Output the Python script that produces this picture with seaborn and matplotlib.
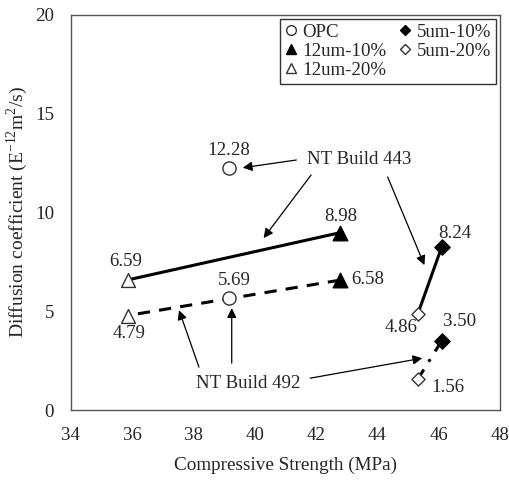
import matplotlib
matplotlib.use("Agg")
import matplotlib.pyplot as plt
import seaborn as sns
import pandas as pd
from matplotlib.lines import Line2D

groups = ["OPC", "12um-10%", "12um-20%", "5um-10%", "5um-20%"]
strength = [39.15, 42.78, 35.85, 46.1, 45.32]
d443 = [12.28, 8.98, 6.59, 8.24, 4.86]
d492 = [5.69, 6.58, 4.79, 3.50, 1.56]
labels443 = ["12.28", "8.98", "6.59", "8.24", "4.86"]
labels492 = ["5.69", "6.58", "4.79", "3.50", "1.56"]
xticks = [34, 36, 38, 40, 42, 44, 46, 48]
yticks = [0, 5, 10, 15, 20]

sns.set_style("white")
plt.rcParams["font.family"] = ["Liberation Serif", "DejaVu Serif"]
plt.rcParams["mathtext.fontset"] = "custom"
plt.rcParams["mathtext.rm"] = "Liberation Serif"

FS = 13.6
fig = plt.figure(figsize=(5.1, 4.82), dpi=100)
ax = fig.add_axes([0.139, 0.149, 0.841, 0.82])

df = pd.DataFrame({"group": groups, "strength": strength, "d443": d443, "d492": d492})

def pair(a, b, col):
    sub = df[df.group.isin([a, b])]
    return sub["strength"].values, sub[col].values

# connecting lines
x, y = pair("12um-20%", "12um-10%", "d443")
sns.lineplot(x=x, y=y, ax=ax, color="black", lw=2.2, sort=False, zorder=2)
x, y = pair("12um-20%", "12um-10%", "d492")
sns.lineplot(x=x, y=y, ax=ax, color="black", lw=2.2, sort=False,
             linestyle=(0, (4, 3)), zorder=2)
x, y = pair("5um-20%", "5um-10%", "d443")
sns.lineplot(x=x, y=y, ax=ax, color="black", lw=2.2, sort=False, zorder=2)
x, y = pair("5um-20%", "5um-10%", "d492")
sns.lineplot(x=x, y=y, ax=ax, color="black", lw=2.2, sort=False,
             linestyle=(0, (4, 3, 1, 3)), zorder=2)

styles = {
    "OPC": dict(marker="o", facecolor="white", s=90, edgecolor="#333333"),
    "12um-10%": dict(marker="^", facecolor="black", s=110, edgecolor="black"),
    "12um-20%": dict(marker="^", facecolor="white", s=100, edgecolor="#333333"),
    "5um-10%": dict(marker="D", facecolor="black", s=60, edgecolor="black"),
    "5um-20%": dict(marker="D", facecolor="white", s=45, edgecolor="#333333"),
}
for g in groups:
    st = styles[g]
    sub = df[df.group == g]
    for col in ["d443", "d492"]:
        sns.scatterplot(x=sub["strength"], y=sub[col], ax=ax, marker=st["marker"],
                        color=st["facecolor"], edgecolor=st["edgecolor"], s=st["s"],
                        linewidth=1.0, zorder=3, legend=False)

# value labels (offsets in points)
off443 = {"OPC": (0, 12.6), "12um-10%": (1, 12), "12um-20%": (-1, 13.6),
          "5um-10%": (9.6, 10.3), "5um-20%": (-12.2, -9.4)}
off492 = {"OPC": (4, 12.7), "12um-10%": (19.8, 0.7), "12um-20%": (1, -12.7),
          "5um-10%": (13, 14.4), "5um-20%": (21.6, -5.8)}
for i, g in enumerate(groups):
    ax.annotate(labels443[i], (strength[i], d443[i]), xytext=off443[g],
                textcoords="offset points", ha="center", va="center", fontsize=FS)
    ax.annotate(labels492[i], (strength[i], d492[i]), xytext=off492[g],
                textcoords="offset points", ha="center", va="center", fontsize=FS)

arrow = dict(arrowstyle="-|>", color="black", lw=0.9, mutation_scale=14, shrinkA=0, shrinkB=0)
ax.text(43.40, 12.66, "NT Build 443", ha="center", va="center", fontsize=FS)
for tail, head in [((41.36, 12.66), (39.61, 12.27)),
                   ((41.84, 11.90), (40.29, 8.71)),
                   ((44.34, 11.80), (45.54, 7.34))]:
    ax.annotate("", xy=head, xytext=tail, arrowprops=arrow)
ax.text(39.80, 1.37, "NT Build 492", ha="center", va="center", fontsize=FS)
for tail, head in [((38.18, 2.18), (37.53, 5.06)),
                   ((39.25, 2.38), (39.25, 5.16)),
                   ((41.81, 1.62), (45.47, 2.63))]:
    ax.annotate("", xy=head, xytext=tail, arrowprops=arrow)

ax.set_xlim(34, 48)
ax.set_ylim(0, 20)
ax.set_xticks(xticks)
ax.set_yticks(yticks)
ax.tick_params(axis="both", length=0, labelsize=FS, pad=12)
ax.set_xlabel("Compressive Strength (MPa)", fontsize=13.8, labelpad=9)
ax.set_ylabel(r"Diffusion coefficient (E$^{\mathregular{-12}}$m$^{\mathregular{2}}$/s)",
              fontsize=14, labelpad=4)
for sp in ax.spines.values():
    sp.set_color("#555555")
    sp.set_linewidth(1.0)

handles = []
for g in groups:
    st = styles[g]
    handles.append(Line2D([], [], linestyle="none", marker=st["marker"],
                          markerfacecolor=st["facecolor"], markeredgecolor=st["edgecolor"],
                          markersize=7 if st["marker"] != "D" else 5.5, label=g))
leg = ax.legend(handles=handles, loc="upper right", ncol=2, fontsize=FS, frameon=True,
                fancybox=False, edgecolor="black", handlelength=0.6, handletextpad=0.3,
                columnspacing=0.7, borderpad=0.25, labelspacing=0.1,
                bbox_to_anchor=(0.99, 0.99), borderaxespad=0)
leg.get_frame().set_linewidth(1.0)

fig.savefig("out.png", dpi=100)
